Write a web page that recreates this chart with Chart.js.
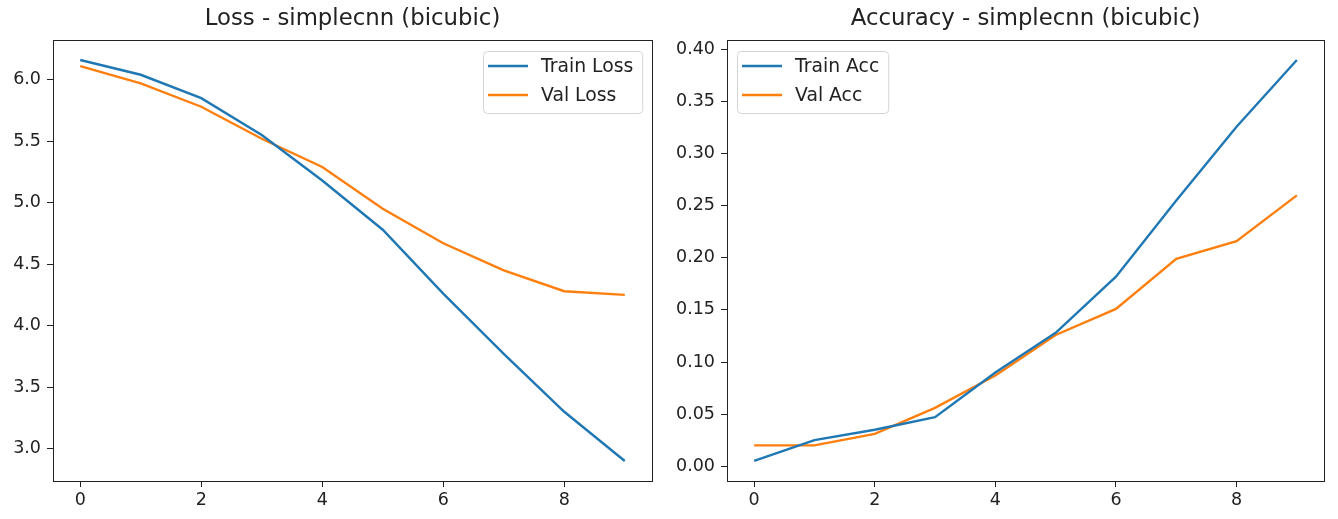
<!DOCTYPE html>
<html>
<head>
<meta charset="utf-8">
<script src="https://cdn.jsdelivr.net/npm/chart.js@4.4.1/dist/chart.umd.min.js"></script>
<style>
  html, body { margin: 0; padding: 0; background: #fff; }
  body { width: 1338px; height: 519px; position: relative; overflow: hidden; }
  .box { position: absolute; top: 0; width: 669px; height: 519px; }
</style>
</head>
<body>
<div class="box" style="left:0"><canvas id="lossChart"></canvas></div>
<div class="box" style="left:669px"><canvas id="accChart"></canvas></div>
<script>
const epochs = [0, 1, 2, 3, 4, 5, 6, 7, 8, 9];
const trainLoss = [6.16, 6.04, 5.85, 5.55, 5.18, 4.78, 4.26, 3.77, 3.30, 2.90];
const valLoss = [6.11, 5.97, 5.78, 5.52, 5.29, 4.95, 4.67, 4.45, 4.28, 4.25];
const trainAcc = [0.005, 0.025, 0.035, 0.047, 0.090, 0.128, 0.182, 0.255, 0.326, 0.390];
const valAcc = [0.020, 0.020, 0.031, 0.056, 0.087, 0.126, 0.151, 0.199, 0.216, 0.260];
const xTicks = [0, 2, 4, 6, 8];
const lossTicks = [3.0, 3.5, 4.0, 4.5, 5.0, 5.5, 6.0];
const accTicks = [0.00, 0.05, 0.10, 0.15, 0.20, 0.25, 0.30, 0.35, 0.40];

const FONT = '"DejaVu Sans", sans-serif';
const TEXT = '#222';
const BLUE = '#1f77b4';
const ORANGE = '#ff7f0e';

// box around the plot area, like matplotlib spines
const frame = {
  id: 'frame',
  afterDatasetsDraw(chart) {
    const a = chart.chartArea, ctx = chart.ctx;
    ctx.save();
    ctx.strokeStyle = '#222';
    ctx.lineWidth = 1;
    ctx.strokeRect(Math.round(a.left) + 0.5, Math.round(a.top) + 0.5,
      Math.round(a.right - a.left), Math.round(a.bottom - a.top));
    ctx.restore();
  }
};

// legend drawn inside the axes
const boxLegend = {
  id: 'boxLegend',
  afterDraw(chart, args, opts) {
    const ctx = chart.ctx, a = chart.chartArea;
    ctx.save();
    ctx.font = '18.8px ' + FONT;
    const sets = chart.data.datasets;
    const textW = Math.max(...sets.map(d => ctx.measureText(d.label).width));
    const w = 5 + 40 + 13 + textW + 9;
    const h = 62;
    const x = Math.round(opts.side === 'right' ? a.right - 10 - w : a.left + 10);
    const y = Math.round(a.top + 11);
    ctx.beginPath();
    ctx.roundRect(x + 0.5, y + 0.5, w, h, 4);
    ctx.fillStyle = 'rgba(255,255,255,0.8)';
    ctx.fill();
    ctx.strokeStyle = '#d4d4d4';
    ctx.lineWidth = 1;
    ctx.stroke();
    sets.forEach((d, i) => {
      const ly = y + 15 + i * 29;
      ctx.strokeStyle = d.borderColor;
      ctx.lineWidth = d.borderWidth;
      ctx.beginPath();
      ctx.moveTo(x + 5, ly);
      ctx.lineTo(x + 45, ly);
      ctx.stroke();
      ctx.fillStyle = TEXT;
      ctx.textBaseline = 'middle';
      ctx.fillText(d.label, x + 58, ly + 1);
    });
    ctx.restore();
  }
};

function pts(ys) {
  return epochs.map((e, i) => ({ x: e, y: ys[i] }));
}

function padRange(arrs) {
  const all = arrs.flat();
  const lo = Math.min(...all), hi = Math.max(...all);
  const m = (hi - lo) * 0.05;
  return [lo - m, hi + m];
}

function makeChart(id, title, sets, yTicks, digits, yWidth, padRight, side) {
  const [ymin, ymax] = padRange(sets.map(s => s.data));
  return new Chart(id, {
    type: 'line',
    data: {
      datasets: sets.map(s => ({
        label: s.label,
        data: pts(s.data),
        borderColor: s.color,
        backgroundColor: s.color,
        borderWidth: 2.4,
        pointRadius: 0,
        tension: 0,
        fill: false
      }))
    },
    options: {
      responsive: true,
      maintainAspectRatio: false,
      animation: false,
      devicePixelRatio: 1,
      layout: { padding: { left: 0, right: padRight, top: 0, bottom: 0 } },
      scales: {
        x: {
          type: 'linear',
          min: -0.45,
          max: 9.45,
          afterBuildTicks: s => { s.ticks = xTicks.map(v => ({ value: v })); },
          afterFit: s => { s.height = 38; },
          border: { display: false },
          grid: { drawOnChartArea: false, drawTicks: true, tickLength: 6, tickColor: '#222', tickWidth: 1 },
          ticks: { color: TEXT, font: { family: FONT, size: 17.5 }, padding: 3, maxRotation: 0,
            callback: v => String(v) }
        },
        y: {
          type: 'linear',
          min: ymin,
          max: ymax,
          afterBuildTicks: s => { s.ticks = yTicks.map(v => ({ value: v })); },
          afterFit: s => { s.width = yWidth; },
          border: { display: false },
          grid: { drawOnChartArea: false, drawTicks: true, tickLength: 6, tickColor: '#222', tickWidth: 1 },
          ticks: { color: TEXT, font: { family: FONT, size: 17.5 }, padding: 6,
            callback: v => Number(v).toFixed(digits) }
        }
      },
      plugins: {
        legend: { display: false },
        tooltip: { enabled: false },
        title: {
          display: true,
          text: title,
          fullSize: false,
          color: TEXT,
          font: { family: FONT, size: 22.8, weight: 'normal' },
          padding: { top: 5, bottom: 7.6 }
        },
        boxLegend: { side: side }
      }
    },
    plugins: [frame, boxLegend]
  });
}

makeChart('lossChart', 'Loss - simplecnn (bicubic)', [
  { label: 'Train Loss', data: trainLoss, color: BLUE },
  { label: 'Val Loss', data: valLoss, color: ORANGE }
], lossTicks, 1, 53, 17, 'right');

makeChart('accChart', 'Accuracy - simplecnn (bicubic)', [
  { label: 'Train Acc', data: trainAcc, color: BLUE },
  { label: 'Val Acc', data: valAcc, color: ORANGE }
], accTicks, 2, 58, 14, 'left');
</script>
</body>
</html>
